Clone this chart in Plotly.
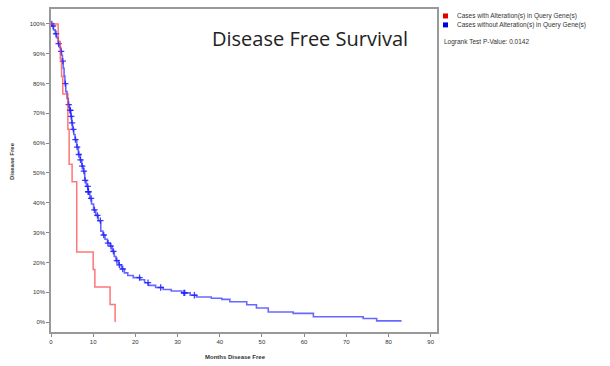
import plotly.graph_objects as go

# Altered group (red) KM steps
red_months = [0, 1.7, 2.2, 2.5, 2.8, 4.0, 4.0, 4.3, 4.3, 5.0, 6.1, 6.1, 6.1, 6.1, 10.0, 10.4, 14.0, 15.2]
red_surv = [100, 94.1, 88.2, 82.4, 76.5, 70.6, 64.7, 58.8, 52.9, 47.1, 41.2, 35.3, 29.4, 23.5, 17.6, 11.8, 5.9, 0]

# Unaltered group (blue) KM steps
blue_months = [0, 0.3, 0.6, 1.0, 1.3, 1.7, 2.0, 2.3, 2.5, 2.7, 2.9, 3.1, 3.3, 3.5, 3.8, 4.1, 4.4, 4.7, 4.9,
               5.1, 5.4, 5.7, 6.1, 6.5, 6.9, 7.3, 7.7, 8.0, 8.4, 8.8, 9.2, 9.6, 10.1, 10.6, 11.2, 11.8,
               12.3, 12.8, 13.4, 14.0, 14.5, 15.0, 15.4, 16.0, 16.7, 17.4, 18.2, 19.5, 21.1, 22.2, 23.1,
               24.8, 26.6, 28.5, 31.0, 33.0, 34.5, 38.0, 40.5, 42.4, 46.4, 48.7, 51.5, 57.4, 62.2, 74.0,
               77.2, 83.1]
blue_surv = [100, 99.3, 98.0, 96.7, 95.4, 93.4, 92.1, 90.8, 89.5, 87.5, 85.1, 82.5, 80.0, 77.3, 75.0, 72.9,
             71.0, 69.0, 66.8, 64.6, 62.9, 61.2, 58.7, 56.2, 54.4, 52.3, 50.6, 47.5, 45.5, 43.7, 41.5, 39.6,
             37.6, 35.8, 34.0, 30.5, 29.2, 27.8, 26.5, 25.5, 23.7, 22.0, 20.6, 19.2, 17.8, 16.5, 15.6, 14.9,
             14.2, 13.2, 12.3, 11.6, 10.9, 10.4, 9.8, 9.0, 8.4, 8.0, 7.6, 6.8, 5.8, 4.7, 3.4, 2.9, 1.8, 1.2,
             0.4, 0.4]

# Censored times (blue)
blue_censor = [0.2, 0.5, 1.2, 1.8, 2.4, 2.8, 3.4, 4.2, 4.5, 4.6, 4.8, 5.0, 5.3, 5.8, 6.2, 6.6, 7.0, 7.4,
               7.8, 8.1, 8.7, 8.8, 8.9, 9.5, 10.3, 11.0, 11.7, 12.5, 13.5, 14.2, 14.8, 15.6, 16.2, 17.0,
               21.0, 23.0, 26.0, 31.5, 31.7, 34.0]

x_ticks = [0, 10, 20, 30, 40, 50, 60, 70, 80, 90]
y_ticks = [0, 10, 20, 30, 40, 50, 60, 70, 80, 90, 100]
y_tick_labels = [f"{v}%" for v in y_ticks]

legend_labels = ["Cases with Alteration(s) in Query Gene(s)", "Cases without Alteration(s) in Query Gene(s)"]
pvalue_text = "Logrank Test P-Value: 0.0142"


def surv_at(t, times, surv):
    s = surv[0]
    for ti, si in zip(times, surv):
        if ti <= t:
            s = si
        else:
            break
    return s


censor_y = [surv_at(t, blue_months, blue_surv) for t in blue_censor]

fig = go.Figure()
fig.add_trace(go.Scatter(x=blue_months, y=blue_surv, mode="lines", line_shape="hv",
                         line=dict(color="rgba(40,40,255,0.7)", width=1.6), name=legend_labels[1],
                         showlegend=False))
fig.add_trace(go.Scatter(x=blue_censor, y=censor_y, mode="markers",
                         marker=dict(symbol="cross-thin", size=4.5, line=dict(color="rgba(30,30,255,0.85)", width=1.3)),
                         showlegend=False))
fig.add_trace(go.Scatter(x=red_months, y=red_surv, mode="lines", line_shape="hv",
                         line=dict(color="rgba(255,60,60,0.7)", width=1.5), name=legend_labels[0],
                         showlegend=False))

axis_font = dict(family="Liberation Sans, Arial", size=6, color="#333")
fig.update_xaxes(range=[0, 91.5], tickvals=x_ticks, ticks="outside", ticklen=3, tickcolor="#888",
                 showline=True, linecolor="#999", linewidth=1.5, mirror=True, showgrid=False,
                 zeroline=False, tickfont=axis_font)
fig.update_yaxes(range=[-3.33, 105], tickvals=y_ticks, ticktext=y_tick_labels, ticks="outside", ticklen=3,
                 tickcolor="#888", showline=True, linecolor="#999", linewidth=1.5, mirror=True,
                 showgrid=False, zeroline=False, tickfont=axis_font)

fig.update_layout(width=610, height=366, margin=dict(l=51, r=173, t=7, b=34),
                  paper_bgcolor="white", plot_bgcolor="white")

fig.add_annotation(text="Disease Free Survival", xref="paper", yref="paper",
                   x=(310 - 51) / 386, y=1 - (37 - 7) / 325, xanchor="center", yanchor="middle",
                   showarrow=False, font=dict(family="Open Sans", size=20, color="#222"))
fig.add_annotation(text="<b>Months Disease Free</b>", xref="paper", yref="paper",
                   x=(235 - 51) / 386, y=1 - (357 - 7) / 325, xanchor="center", yanchor="middle",
                   showarrow=False, font=dict(family="Liberation Sans", size=6, color="#333"))
fig.add_annotation(text="<b>Disease Free</b>", xref="paper", yref="paper", textangle=-90,
                   x=(12 - 51) / 386, y=1 - (160 - 7) / 325, xanchor="center", yanchor="middle",
                   showarrow=False, font=dict(family="Liberation Sans", size=6, color="#333"))

leg_colors = ["#e00000", "#0000e0"]
leg_y = [14, 23]
for lab, col, yy in zip(legend_labels, leg_colors, leg_y):
    xs = (443 - 51) / 386
    ys = 1 - (yy - 7) / 325
    fig.add_shape(type="rect", xref="paper", yref="paper",
                  x0=xs, x1=xs + 5 / 386, y0=ys - 2.5 / 325, y1=ys + 2.5 / 325,
                  fillcolor=col, line=dict(width=0))
    fig.add_annotation(text=lab, xref="paper", yref="paper", x=(455 - 51) / 386, y=ys,
                       xanchor="left", yanchor="middle", showarrow=False,
                       font=dict(family="Liberation Sans", size=6.5, color="#333"))
fig.add_annotation(text=pvalue_text, xref="paper", yref="paper", x=(442 - 51) / 386, y=1 - (40 - 7) / 325,
                   xanchor="left", yanchor="middle", showarrow=False,
                   font=dict(family="Liberation Sans", size=6.5, color="#333"))

fig.write_html("out.html")
